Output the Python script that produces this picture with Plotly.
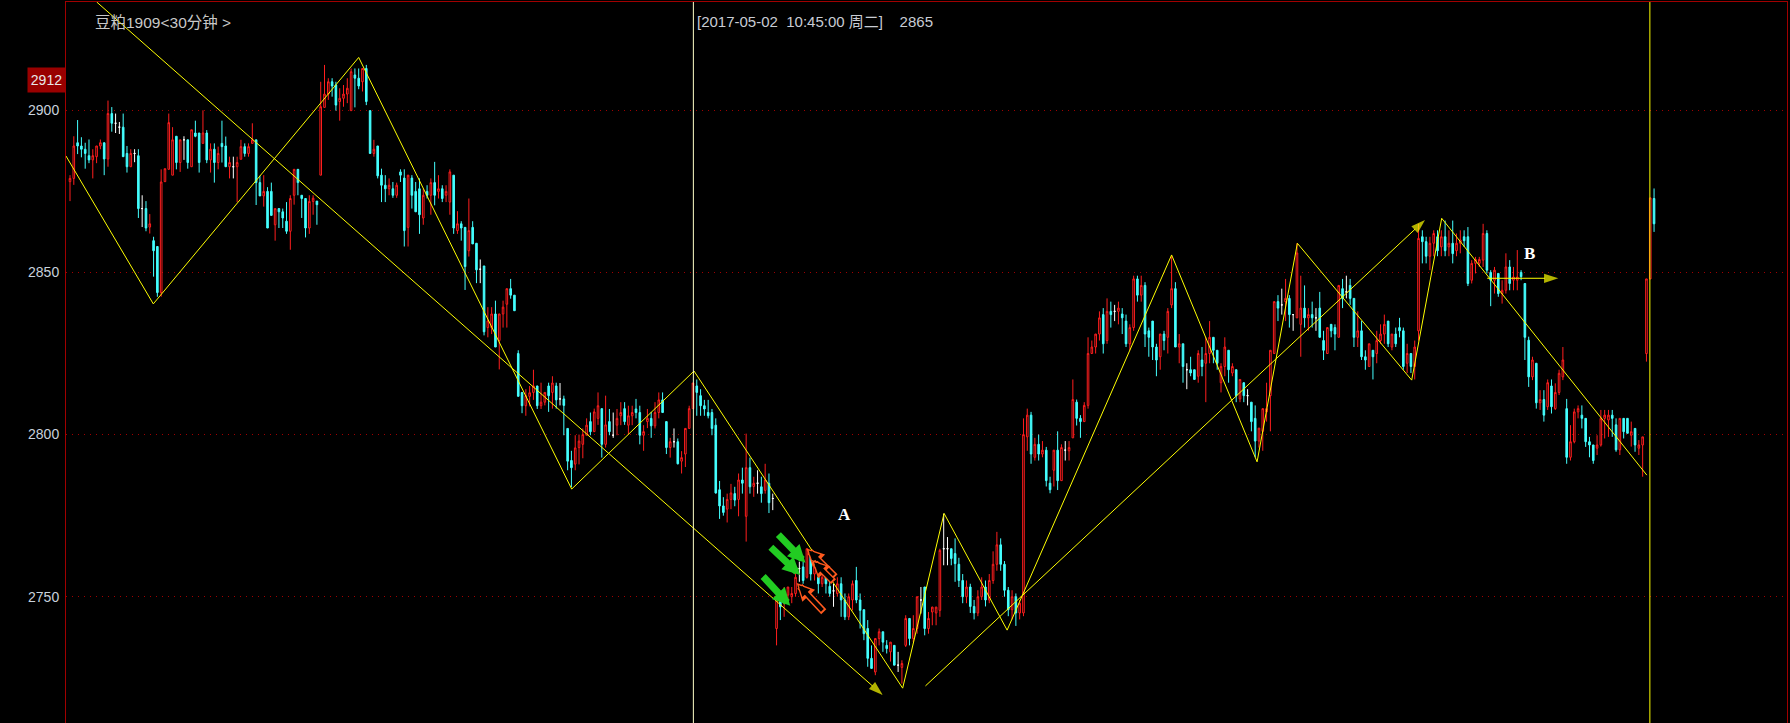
import plotly.graph_objects as go

# ---------------- data ----------------
OPEN = [
 2878, 2879, 2890, 2889, 2888, 2886, 2884.7, 2885.7, 2889, 2890,
 2885, 2899, 2896, 2894.8, 2894.8, 2886.7, 2882.6, 2886.7, 2886, 2869.7,
 2869.7, 2864, 2859.8, 2858, 2843.8, 2878, 2881.8, 2880, 2892, 2883.9,
 2890.9, 2890.9, 2882.6, 2893, 2893, 2889.8, 2893, 2884.7, 2888, 2883.9,
 2889.8, 2889, 2882.6, 2882.6, 2882.6, 2884.9, 2888.8, 2886.7, 2889.8, 2890.9,
 2877.7, 2873.6, 2875, 2875, 2864.7, 2869.7, 2868.7, 2865.8, 2862.7, 2873.8,
 2881.8, 2873.8, 2872.8, 2863.7, 2871.9, 2872, 2880, 2900.9, 2905, 2908.8,
 2907.8, 2902.7, 2903.7, 2905, 2899.9, 2910.9, 2909.9, 2908.8, 2912.9, 2899.9,
 2886.7, 2889, 2880, 2876.9, 2875.8, 2875.8, 2873.8, 2881, 2879.1, 2863.9,
 2879.1, 2875, 2875.8, 2866.8, 2875, 2873.8, 2877.7, 2875, 2875.8, 2873.8,
 2871.7, 2880, 2862.9, 2865, 2863.9, 2856.7, 2863.9, 2859, 2851, 2852,
 2833, 2833, 2837.2, 2829, 2837.2, 2840.2, 2845, 2843, 2825, 2813,
 2808.9, 2811.8, 2813, 2815, 2808.9, 2810, 2815, 2813, 2815, 2811,
 2811, 2801.9, 2792, 2790.9, 2796, 2797, 2799.8, 2804, 2800.9, 2805,
 2808, 2797, 2804, 2799.8, 2802.9, 2805.8, 2808, 2802.9, 2805.8, 2807.9,
 2806.8, 2799.8, 2804, 2805, 2802.7, 2806.8, 2810.7, 2804, 2796, 2797.8,
 2797.8, 2791.8, 2794, 2801.9, 2808, 2815, 2812, 2808.9, 2806.8, 2806.8,
 2802.9, 2783, 2778, 2777, 2780, 2781.8, 2780, 2786, 2774.8, 2789.8,
 2784, 2785, 2783.9, 2782.8, 2785, 2780.3, 2740.2, 2750, 2747.9, 2750.5,
 2750, 2751, 2758.7, 2759.2, 2756, 2762.8, 2757, 2756, 2754, 2757,
 2753.2, 2751.8, 2751, 2754, 2749, 2743.8, 2749, 2755, 2749, 2746,
 2740.2, 2731, 2726.8, 2737.1, 2739.2, 2735, 2733, 2735, 2728.9, 2728.2,
 2735, 2743.3, 2737.1, 2740.2, 2749, 2753, 2740.2, 2745.3, 2745, 2745.8,
 2764.8, 2764.8, 2764.8, 2763.3, 2760, 2755, 2750, 2753, 2747, 2745,
 2750, 2753, 2749, 2755, 2760, 2766, 2760, 2752, 2746, 2750,
 2745, 2745, 2799.3, 2806, 2793, 2797, 2794, 2795.2, 2785, 2789,
 2795.2, 2785.8, 2795.2, 2795, 2799, 2810, 2805, 2804, 2809, 2825,
 2827, 2831, 2837, 2829, 2838, 2838, 2838, 2837.2, 2835, 2828,
 2833, 2848, 2843, 2846, 2832, 2835, 2827, 2824, 2831, 2830,
 2840, 2845, 2827, 2828, 2820, 2820, 2820, 2818, 2823, 2822,
 2825, 2830, 2826, 2816, 2821, 2826, 2819, 2820, 2811, 2816,
 2812, 2810, 2805, 2798, 2801, 2807, 2812, 2825, 2841, 2840,
 2841, 2842, 2837, 2836, 2834, 2839, 2836, 2837, 2836, 2839,
 2829, 2825, 2834, 2833, 2830, 2845, 2844, 2846, 2842, 2830,
 2832, 2824, 2821, 2826, 2825, 2829, 2831, 2835, 2827, 2831,
 2833, 2832, 2822, 2825, 2821, 2832, 2861, 2859.5, 2855, 2859,
 2861, 2857.9, 2861, 2857.9, 2859, 2856.7, 2859, 2861, 2861, 2847.6,
 2852.8, 2852.8, 2853.8, 2862, 2850, 2847.6, 2849.7, 2843.5, 2844.5, 2851.7,
 2847.6, 2847.6, 2850, 2846.6, 2829.1, 2817.8, 2822, 2809.8, 2810.8, 2808.6,
 2815, 2808, 2813, 2817.8, 2808, 2793, 2797.8, 2807, 2806, 2805,
 2797.8, 2796.8, 2795.8, 2796.8, 2805, 2804.5, 2806, 2803, 2795.3, 2805,
 2805, 2799.8, 2801.9, 2795.8, 2796.8, 2825, 2848, 2872.8,
]
HIGH = [
 2880, 2892, 2897, 2891.7, 2890, 2891, 2888, 2889, 2891, 2890,
 2903, 2901, 2899, 2896.4, 2899, 2889, 2888, 2888, 2888, 2873.8,
 2872, 2868, 2861, 2858, 2881.8, 2882, 2899, 2894.8, 2892, 2890.9,
 2892, 2890.9, 2894, 2896.8, 2893, 2900, 2893.9, 2889.8, 2889.8, 2888.8,
 2896.8, 2891.9, 2885.7, 2885.7, 2885.7, 2890.9, 2889.8, 2889.8, 2896, 2890.9,
 2879.8, 2880, 2876.3, 2877.7, 2869.7, 2869.7, 2869.7, 2871.7, 2873.8, 2881.8,
 2881.8, 2873.8, 2872.8, 2873.8, 2873.8, 2872, 2908.8, 2914, 2909.9, 2909.9,
 2908.8, 2906.8, 2907.8, 2909.9, 2912.9, 2912.9, 2912.9, 2912.9, 2914, 2900,
 2890.9, 2889, 2882, 2880, 2879, 2877.9, 2877.7, 2881.8, 2881.8, 2880,
 2880, 2877.9, 2879, 2875.8, 2876.9, 2879, 2884.1, 2880, 2876.9, 2876.9,
 2881.8, 2880, 2868.9, 2865.8, 2863.9, 2872.8, 2865.8, 2859, 2854, 2852,
 2839.3, 2839.3, 2841.3, 2837.2, 2841.3, 2845, 2848, 2843, 2826, 2813,
 2814, 2815, 2820, 2815, 2816, 2813, 2816, 2818, 2816, 2815.9,
 2812, 2801.9, 2795, 2799.8, 2800, 2801.9, 2805, 2806.8, 2808, 2813,
 2808, 2812, 2807.9, 2806.8, 2807.9, 2810, 2810, 2808.9, 2808.9, 2811,
 2808.9, 2802.9, 2807.9, 2807, 2810, 2813, 2813, 2804, 2799, 2801.9,
 2798.8, 2794.9, 2801.9, 2808.9, 2815.9, 2817, 2814, 2810.7, 2810.7, 2807.9,
 2805, 2785.7, 2780.7, 2781.8, 2784.8, 2783.9, 2788, 2789.8, 2800.3, 2792.9,
 2787, 2789, 2787, 2791, 2788, 2781.8, 2750.5, 2750, 2753, 2753,
 2753, 2759, 2760.8, 2760.8, 2764.8, 2763.8, 2761.3, 2758.7, 2757, 2759.2,
 2756, 2754, 2756, 2756, 2751, 2751, 2755, 2759.2, 2751, 2746,
 2742.8, 2735, 2737.1, 2740.2, 2739.2, 2736.6, 2736, 2735, 2733, 2730.4,
 2744.3, 2743.3, 2744.3, 2750, 2753, 2753, 2745.3, 2746.9, 2746.9, 2764.8,
 2775.6, 2768.4, 2764.8, 2768, 2762, 2757, 2755, 2754, 2749, 2752,
 2756, 2755, 2757, 2764, 2770, 2768, 2761, 2753, 2752, 2751,
 2749, 2805, 2808, 2807, 2799, 2800, 2798, 2796.2, 2787, 2795.2,
 2801, 2797, 2798, 2798, 2817, 2810.8, 2806, 2810, 2830, 2829,
 2831, 2838, 2839, 2842, 2841, 2840, 2841, 2839, 2837, 2834,
 2849, 2849, 2849, 2847, 2833, 2835, 2828, 2831, 2832, 2839,
 2855, 2847, 2831, 2828, 2822, 2824, 2820, 2826, 2827, 2830,
 2835, 2830, 2826, 2822, 2830, 2826, 2822, 2820, 2817, 2816,
 2814, 2810, 2809, 2802, 2808, 2816, 2826, 2841, 2843, 2845,
 2848, 2843, 2837, 2859, 2849, 2846, 2839, 2841, 2839, 2844,
 2832, 2833, 2834, 2834, 2846, 2848, 2849, 2848, 2842, 2838,
 2835, 2826, 2828, 2826, 2832, 2834, 2837, 2835, 2831, 2833,
 2836, 2833, 2828, 2825, 2829, 2865, 2863, 2861, 2861, 2863,
 2863, 2863, 2866, 2863, 2866, 2862, 2863, 2863, 2864, 2853.8,
 2854.8, 2854.8, 2865, 2863, 2850.7, 2851.7, 2849.7, 2847.6, 2855.9, 2853.8,
 2851.7, 2856.9, 2850.7, 2846.6, 2830.2, 2824, 2822, 2813.7, 2813.7, 2817,
 2817, 2815.8, 2820, 2827, 2811, 2802.9, 2808, 2809, 2809, 2805,
 2799.3, 2796.8, 2799.8, 2807.6, 2807.6, 2807.6, 2807.6, 2805, 2805, 2805,
 2805, 2804, 2801.9, 2798.3, 2799.3, 2848, 2873, 2875.9,
]
LOW = [
 2872, 2877, 2886.5, 2885.5, 2882, 2883.7, 2879, 2883.7, 2888, 2880,
 2882.6, 2893.4, 2893, 2892.7, 2885.7, 2880.8, 2882.6, 2884, 2866.8, 2864,
 2862.7, 2862, 2848.7, 2842.5, 2842.5, 2877.9, 2881.8, 2880, 2881.8, 2881,
 2884.7, 2882, 2882.6, 2891.7, 2880.8, 2889.8, 2883.7, 2880.8, 2877.7, 2881.8,
 2883.9, 2882.6, 2879, 2879, 2871.7, 2884.9, 2885.7, 2885.7, 2889.8, 2870.8,
 2873.6, 2870.3, 2863.7, 2867.6, 2859.8, 2863.7, 2863.7, 2861.9, 2857, 2870.9,
 2873.8, 2866.8, 2860.8, 2861.9, 2867.8, 2864.7, 2880, 2900.9, 2903.2, 2904.2,
 2899.9, 2896.8, 2901.1, 2902.2, 2899.9, 2900.9, 2906.5, 2905.8, 2901.6, 2886.7,
 2885.7, 2879, 2871.7, 2871.7, 2873.8, 2873, 2873, 2877.9, 2858, 2858,
 2869.7, 2868.7, 2861.9, 2864.7, 2872.8, 2867.8, 2870.7, 2872.8, 2871.7, 2871.7,
 2867.8, 2861.9, 2861.9, 2859.8, 2844.6, 2854.9, 2858.8, 2846.7, 2846.7, 2830.6,
 2830, 2831, 2827, 2820.1, 2833, 2833, 2841.9, 2838.2, 2811.8, 2806.6,
 2805.8, 2808.7, 2810.7, 2807.9, 2807.9, 2809, 2807, 2808, 2808, 2809,
 2799.8, 2789, 2783.8, 2789, 2790.8, 2792.7, 2799.8, 2799.8, 2800.9, 2803,
 2792.9, 2796, 2799.8, 2799, 2799.8, 2802.9, 2803, 2800, 2802.9, 2805,
 2797, 2795, 2802, 2799, 2801.9, 2805, 2806.8, 2794, 2792.9, 2796,
 2790.8, 2788, 2790, 2801.9, 2808, 2805.8, 2805.8, 2805.8, 2805, 2799.8,
 2781.8, 2774, 2775, 2772.9, 2777, 2777.9, 2774.8, 2781.8, 2767, 2781.8,
 2780.8, 2781.8, 2779, 2781.8, 2775.8, 2776.7, 2735, 2742.8, 2743.8, 2749,
 2748, 2750, 2754.6, 2754, 2755.6, 2755, 2755, 2751, 2753, 2751,
 2750, 2746.9, 2750, 2743.8, 2742.8, 2742.8, 2745.8, 2748, 2740.2, 2736.6,
 2728.4, 2727.9, 2725.8, 2735, 2733, 2732.5, 2730, 2728.9, 2726.8, 2723.2,
 2734.5, 2735, 2736, 2738.6, 2744.8, 2738.1, 2738.6, 2741.2, 2741.2, 2743.8,
 2759.7, 2759.7, 2759.7, 2754.6, 2753, 2748, 2748, 2745, 2743, 2744,
 2749, 2747, 2748, 2754, 2758, 2758, 2750, 2744, 2743, 2741,
 2743, 2744, 2795, 2791, 2792, 2792, 2793, 2784, 2781.9, 2784,
 2782.9, 2785.8, 2792, 2792, 2799, 2802.8, 2799, 2804, 2808, 2825,
 2825, 2829, 2825, 2828, 2833, 2835, 2834, 2831, 2827, 2826,
 2832, 2841, 2841, 2827, 2824, 2823, 2818, 2820, 2826, 2825,
 2839, 2827, 2822, 2816, 2814, 2818, 2817, 2816, 2818, 2810,
 2822, 2822, 2820, 2813, 2818, 2816, 2818, 2810, 2810, 2810,
 2809, 2801, 2793, 2796, 2795, 2804, 2801, 2825, 2835, 2837,
 2835, 2833, 2832, 2836, 2824, 2833, 2832, 2833, 2832, 2830,
 2823, 2825, 2830, 2826, 2830, 2839, 2842, 2840, 2827, 2827,
 2823, 2820, 2821, 2817, 2822, 2828, 2828, 2827, 2826, 2827,
 2830, 2820, 2819, 2819, 2817, 2829, 2852.8, 2852.8, 2850.7, 2855,
 2855, 2855, 2855, 2855, 2852.8, 2855, 2855.9, 2857.9, 2845.8, 2846.6,
 2849.7, 2851.7, 2851.7, 2849.7, 2839.6, 2843.5, 2842.5, 2840.4, 2843.5, 2844.5,
 2844.5, 2844.5, 2847.6, 2823, 2814.7, 2816.8, 2808, 2807.6, 2804, 2807.6,
 2806.5, 2807.6, 2812.2, 2816.8, 2791, 2792, 2797.3, 2805, 2801.9, 2796.2,
 2793, 2791, 2793.7, 2796.3, 2798.8, 2799.3, 2799.3, 2794.7, 2793.7, 2798.8,
 2800.4, 2796.3, 2794.7, 2793.7, 2787, 2822.5, 2848, 2862.5,
]
CLOSE = [
 2879, 2889, 2889, 2888, 2886.7, 2884.7, 2886, 2889, 2890, 2885,
 2899, 2896, 2896, 2894.8, 2885.7, 2882.6, 2886.7, 2886.7, 2869.7, 2869.7,
 2863.7, 2865, 2856.7, 2843.8, 2877.9, 2882, 2896.2, 2890.9, 2883.9, 2890.9,
 2890.9, 2883.9, 2894, 2892, 2883.9, 2893, 2884.7, 2888, 2883.9, 2886.7,
 2888.8, 2882.6, 2883.9, 2882.6, 2883.9, 2888.8, 2886.7, 2888.8, 2890.9, 2877.7,
 2873.6, 2875, 2863.7, 2867.6, 2869.7, 2868.7, 2866.8, 2862.7, 2872.8, 2881.8,
 2877.7, 2872.8, 2863.7, 2871.9, 2872.9, 2870.9, 2901.1, 2905, 2908.8, 2907.5,
 2901.6, 2903.7, 2905, 2906.8, 2911.9, 2909.9, 2907.5, 2912.9, 2902.7, 2886.7,
 2888, 2879.8, 2876.9, 2875.8, 2876.9, 2873.8, 2876.9, 2880, 2862.9, 2880,
 2873.8, 2868.7, 2867.8, 2873.8, 2873.8, 2877.7, 2873.8, 2875.8, 2872.8, 2875,
 2881, 2863.7, 2865, 2863.7, 2851.8, 2862.9, 2858.8, 2850.8, 2851, 2831.7,
 2835.1, 2837.2, 2827, 2837.2, 2839.3, 2845, 2843, 2838.2, 2811.8, 2808.9,
 2812, 2812.9, 2815, 2808.9, 2810, 2813, 2812, 2815.9, 2810.7, 2811,
 2809, 2791.8, 2789.8, 2795.9, 2798, 2800, 2802.9, 2800.9, 2807, 2808.9,
 2797, 2803, 2800.9, 2799.8, 2805, 2806.8, 2804, 2805.8, 2806.8, 2806.8,
 2799.8, 2800.9, 2805, 2802.7, 2806.8, 2810.7, 2806.8, 2796, 2797.8, 2797.8,
 2791, 2792.9, 2801.9, 2808, 2815.9, 2813, 2808.9, 2807.9, 2805.8, 2801.9,
 2782, 2778, 2776, 2780, 2782, 2779.8, 2786, 2785, 2789.8, 2783.9,
 2785, 2785, 2781.8, 2786, 2779, 2780.3, 2750, 2746.9, 2750.5, 2753,
 2751, 2756, 2758.7, 2755, 2764.8, 2757, 2759.2, 2754, 2756, 2754,
 2751, 2751.8, 2754, 2749, 2743.8, 2750, 2754, 2749, 2745.8, 2738.6,
 2731, 2727.9, 2737.1, 2739.2, 2736, 2734, 2736, 2728.9, 2728.9, 2729.4,
 2743.3, 2737.1, 2740.2, 2750, 2749, 2740.2, 2743.3, 2746.8, 2746.8, 2764.3,
 2764.8, 2764.8, 2761.8, 2760.2, 2755, 2750, 2753, 2747, 2745, 2750,
 2753, 2749, 2755, 2760, 2766, 2760, 2752, 2746, 2750, 2745,
 2748, 2800, 2806, 2794, 2797, 2794, 2795.2, 2785.8, 2783, 2795.2,
 2785.8, 2796, 2795.2, 2796, 2810.8, 2805, 2804, 2809, 2825, 2827,
 2831, 2836, 2828, 2838, 2837, 2838, 2839, 2836, 2828, 2833,
 2848, 2843, 2846, 2831, 2830, 2827, 2823, 2831, 2829, 2838,
 2845, 2827, 2828, 2821, 2820, 2819, 2817, 2825, 2821, 2825,
 2830, 2826, 2822, 2821, 2827, 2820, 2821, 2812, 2817, 2812,
 2812, 2804, 2798, 2802, 2808, 2808, 2826, 2841, 2839, 2840,
 2842, 2837, 2837, 2856, 2839, 2836, 2837, 2836, 2836, 2830,
 2826, 2833, 2832, 2831, 2846, 2842, 2844, 2842, 2830, 2832,
 2824, 2823, 2828, 2824, 2829, 2831, 2834, 2828, 2831, 2828,
 2832, 2821, 2825, 2821, 2827, 2860.5, 2859.5, 2855, 2859, 2862,
 2856.7, 2861, 2856.7, 2859, 2855.8, 2859, 2860, 2859.8, 2846.6, 2852.8,
 2854, 2854, 2862, 2850.7, 2847.6, 2850.7, 2843.5, 2844.5, 2851.7, 2846.6,
 2848.6, 2848.6, 2848.7, 2830, 2817.8, 2823, 2809.8, 2810.8, 2806, 2816,
 2808.6, 2813, 2818.9, 2823, 2793, 2797.8, 2807, 2808, 2805, 2797.8,
 2796.8, 2792, 2796.8, 2805, 2806, 2806, 2805, 2795.3, 2805, 2800.9,
 2800.4, 2800.9, 2796.8, 2796.8, 2799.3, 2848, 2873, 2865,
]

# wave / trend lines (bar index, price)
ZIGZAG_X = [-1.05, 21.93, 76.0, 132.07, 164.27, 219.2, 230.1, 246.7, 290.0, 312.5, 323.1, 353.2, 361.1, 415.1]
ZIGZAG_Y = [2885.9, 2840.3, 2916.3, 2783.2, 2819.6, 2721.8, 2775.7, 2739.7, 2855.4, 2791.6, 2859.0, 2816.8, 2866.7, 2787.5]
TREND_DOWN_X = [7.03, 213.95]
TREND_DOWN_Y = [2933.4, 2719.7]
TREND_UP_X = [225.2, 356.7]
TREND_UP_Y = [2722.5, 2866.2]
LEVEL_B_X = [373.1, 391.8]
LEVEL_B_Y = [2848.2, 2848.2]

# markers: (tail index, tail price, tip index, tip price)
GREEN_ARROWS = [(186.1, 2769.6, 193.6, 2760.5), (184.1, 2765.7, 192.2, 2756.7), (182.1, 2756.7, 189.6, 2747.2)]
ORANGE_ARROWS = [(201.8, 2755.7, 193.9, 2764.9), (201.4, 2754.2, 195.3, 2761.3), (198.8, 2744.9, 191.3, 2754.2)]
LABELS = [("A", 203.9, 2775.4), ("B", 384.1, 2855.7)]
VLINES = [(164.1, "#FFFFC8"), (415.9, "#FFFF00")]
Y_TICKS = [2750, 2800, 2850, 2900]
PRICE_TAG = "2912"
TITLE = "豆粕1909&lt;30分钟 &gt;"
HEADER = "[2017-05-02\u00a0\u00a010:45:00 周二]\u00a0\u00a0\u00a0\u00a02865"

X_RANGE = [-1.053, 452.0]
Y_RANGE = [2711.06, 2933.4]

RED = "#FF1E1E"
CYAN = "#44FFFF"
YELLOW = "#FFFF00"
BORDER = "#A00000"

idx = list(range(len(OPEN)))
body = [i for i in idx if OPEN[i] != CLOSE[i]]
doji = [i for i in idx if OPEN[i] == CLOSE[i]]

fig = go.Figure()
fig.add_trace(go.Candlestick(
    x=body, open=[OPEN[i] for i in body], high=[HIGH[i] for i in body],
    low=[LOW[i] for i in body], close=[CLOSE[i] for i in body],
    increasing=dict(line=dict(color=RED, width=1), fillcolor="#000000"),
    decreasing=dict(line=dict(color=CYAN, width=1), fillcolor=CYAN),
    whiskerwidth=0, hoverinfo="skip", showlegend=False))
fig.add_trace(go.Candlestick(
    x=doji, open=[OPEN[i] for i in doji], high=[HIGH[i] for i in doji],
    low=[LOW[i] for i in doji], close=[CLOSE[i] for i in doji],
    increasing=dict(line=dict(color="#FFFFFF", width=1), fillcolor="#FFFFFF"),
    decreasing=dict(line=dict(color="#FFFFFF", width=1), fillcolor="#FFFFFF"),
    whiskerwidth=0, hoverinfo="skip", showlegend=False))

fig.add_trace(go.Scatter(x=ZIGZAG_X, y=ZIGZAG_Y, mode="lines",
                         line=dict(color=YELLOW, width=1), hoverinfo="skip", showlegend=False))
for xs, ys in [(TREND_DOWN_X, TREND_DOWN_Y), (TREND_UP_X, TREND_UP_Y), (LEVEL_B_X, LEVEL_B_Y)]:
    fig.add_trace(go.Scatter(x=xs, y=ys, mode="lines+markers",
                             line=dict(color=YELLOW, width=1),
                             marker=dict(symbol="arrow", size=[0, 15], angleref="previous",
                                         color=YELLOW, line=dict(width=0)),
                             hoverinfo="skip", showlegend=False))

shapes = []
for vx, col in VLINES:
    shapes.append(dict(type="line", xref="x", yref="paper", x0=vx, x1=vx, y0=0, y1=1,
                       line=dict(color=col, width=1)))

ann = []
for tx, ty, hx, hy in GREEN_ARROWS:
    ann.append(dict(x=hx, y=hy, ax=tx, ay=ty, xref="x", yref="y", axref="x", ayref="y",
                    text="", showarrow=True, arrowhead=2, arrowwidth=7, arrowsize=0.5,
                    arrowcolor="#22CC22"))
for tx, ty, hx, hy in ORANGE_ARROWS:
    ann.append(dict(x=hx, y=hy, ax=tx, ay=ty, xref="x", yref="y", axref="x", ayref="y",
                    text="", showarrow=True, arrowhead=2, arrowwidth=7, arrowsize=0.5,
                    arrowcolor="#FF5A1E"))
    ann.append(dict(x=hx, y=hy, ax=tx, ay=ty, xref="x", yref="y", axref="x", ayref="y",
                    text="", showarrow=True, arrowhead=2, arrowwidth=4, arrowsize=0.55,
                    standoff=3, startstandoff=2, arrowcolor="#000000"))
for t, lx, ly in LABELS:
    ann.append(dict(x=lx, y=ly, xref="x", yref="y", text="<b>%s</b>" % t, showarrow=False,
                    font=dict(family="Liberation Serif", size=17, color="#FFFFFF")))

ann.append(dict(x=(93 - 66) / 1721, y=1 - (23 - 2) / 721, xref="paper", yref="paper",
                xanchor="left", yanchor="middle", text=TITLE, showarrow=False,
                font=dict(family="Liberation Sans, Noto Sans CJK SC", size=15.5, color="#C8C8C8")))
ann.append(dict(x=(695 - 66) / 1721, y=1 - (22 - 2) / 721, xref="paper", yref="paper",
                xanchor="left", yanchor="middle", text=HEADER, showarrow=False,
                font=dict(family="Liberation Sans, Noto Sans CJK SC", size=15, color="#C8CCD4")))
ann.append(dict(x=0, y=1 - (80 - 2) / 721, xref="paper", yref="paper",
                xanchor="right", yanchor="middle", text=PRICE_TAG, showarrow=False,
                width=37, height=24, bgcolor="#990000", borderpad=0,
                font=dict(family="Liberation Sans", size=14, color="#E8E8E8")))

fig.update_layout(
    width=1790, height=723,
    margin=dict(l=66, r=3, t=2, b=0, pad=0),
    paper_bgcolor="#000000", plot_bgcolor="#000000",
    boxgap=0.4,
    shapes=shapes, annotations=ann,
    xaxis=dict(range=X_RANGE, showgrid=False, zeroline=False, showticklabels=False,
               ticks="", showline=True, mirror=True, linecolor=BORDER, linewidth=1,
               rangeslider=dict(visible=False), fixedrange=True),
    yaxis=dict(range=Y_RANGE, tickvals=Y_TICKS, showgrid=True, gridcolor=BORDER,
               griddash="1px,5px", gridwidth=1, zeroline=False,
               showline=True, mirror=True, linecolor=BORDER, linewidth=1,
               ticks="outside", ticklen=3, tickcolor="rgba(0,0,0,0)",
               tickfont=dict(family="Liberation Sans", size=14, color="#C8D2DC"),
               fixedrange=True),
)

fig.write_html("out.html", config={"displayModeBar": False},
               post_script="document.body.style.margin='0';document.body.style.background='#000';")
